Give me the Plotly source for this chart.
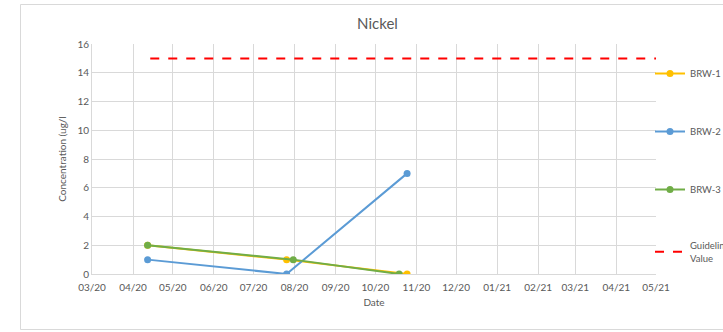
import plotly.graph_objects as go

# ---- data ----
brw1_dates = ["2020-04-12", "2020-07-26", "2020-10-25"]
brw1_vals = [2, 1, 0]
brw2_dates = ["2020-04-12", "2020-07-26", "2020-10-25"]
brw2_vals = [1, 0, 7]
brw3_dates = ["2020-04-12", "2020-07-31", "2020-10-19"]
brw3_vals = [2, 1, 0]
guide_dates = ["2020-04-14", "2021-05-01"]
guide_vals = [15, 15]

W, H = 723, 332
L, R, T, B = 92, 67, 44, 58
pw, ph = W - L - R, H - T - B

def px_to_paper_x(px):
    return (px - L) / pw

def px_to_paper_y(py):
    return (H - B - py) / ph

FONT = "Lato"
TXT = "#595959"
GRID = "#D9D9D9"

fig = go.Figure()
fig.add_trace(go.Scatter(x=brw1_dates, y=brw1_vals, name="BRW-1", mode="lines+markers",
                         line=dict(color="#FFC000", width=2), marker=dict(size=7, color="#FFC000"),
                         legendgroup="a"))
fig.add_trace(go.Scatter(x=brw2_dates, y=brw2_vals, name="BRW-2", mode="lines+markers",
                         line=dict(color="#5B9BD5", width=2), marker=dict(size=7, color="#5B9BD5"),
                         legendgroup="b"))
fig.add_trace(go.Scatter(x=brw3_dates, y=brw3_vals, name="BRW-3", mode="lines+markers",
                         line=dict(color="#70AD47", width=2), marker=dict(size=7, color="#70AD47"),
                         legendgroup="c"))
fig.add_trace(go.Scatter(x=guide_dates, y=guide_vals, name="Guideline<br>Value", mode="lines",
                         line=dict(color="#FF0000", width=2, dash="dash"),
                         legendgroup="d"))

fig.update_layout(
    width=W, height=H,
    margin=dict(l=L, r=R, t=T, b=B, autoexpand=False),
    paper_bgcolor="white", plot_bgcolor="white",
    font=dict(family=FONT, size=10, color=TXT),
    title=dict(text="Nickel", x=377.5 / W, xref="container", xanchor="center",
               y=1 - 24 / H, yref="container", yanchor="middle",
               font=dict(family=FONT, size=15, color=TXT)),
    xaxis=dict(type="date", range=["2020-03-01", "2021-05-01"], dtick="M1",
               tick0="2020-03-01", tickformat="%m/%y",
               showgrid=True, gridcolor=GRID, gridwidth=1,
               showline=True, linecolor=GRID, linewidth=1, mirror=False,
               ticks="", ticklabelstandoff=4,
               title=dict(text="Date", font=dict(size=10, color=TXT), standoff=6),
               zeroline=False),
    yaxis=dict(range=[0, 16], dtick=2, showgrid=True, gridcolor=GRID, gridwidth=1,
               showline=True, linecolor=GRID, linewidth=1, ticks="",
               title=dict(text="Concentration (ug/l", font=dict(size=10, color=TXT), standoff=8),
               zeroline=False),
    legend=dict(x=px_to_paper_x(650), xanchor="left", y=px_to_paper_y(59), yanchor="top",
                tracegroupgap=39, font=dict(size=9.5, color=TXT),
                bgcolor="rgba(0,0,0,0)", itemwidth=30),
    shapes=[
        dict(type="line", xref="paper", yref="paper",
             x0=px_to_paper_x(20.5), x1=px_to_paper_x(20.5),
             y0=px_to_paper_y(329.5), y1=px_to_paper_y(4.5),
             line=dict(color="#D9D9D9", width=1), layer="below"),
        dict(type="line", xref="paper", yref="paper",
             x0=px_to_paper_x(20.5), x1=px_to_paper_x(723),
             y0=px_to_paper_y(4.5), y1=px_to_paper_y(4.5),
             line=dict(color="#D9D9D9", width=1), layer="below"),
        dict(type="line", xref="paper", yref="paper",
             x0=px_to_paper_x(20.5), x1=px_to_paper_x(723),
             y0=px_to_paper_y(329.5), y1=px_to_paper_y(329.5),
             line=dict(color="#D9D9D9", width=1), layer="below"),
    ],
)

fig.write_html("out.html",
               config={"displayModeBar": False},
               post_script=("document.documentElement.style.margin='0';"
                            "document.documentElement.style.overflow='hidden';"
                            "document.body.style.margin='0';"
                            "document.body.style.overflow='hidden';"))
